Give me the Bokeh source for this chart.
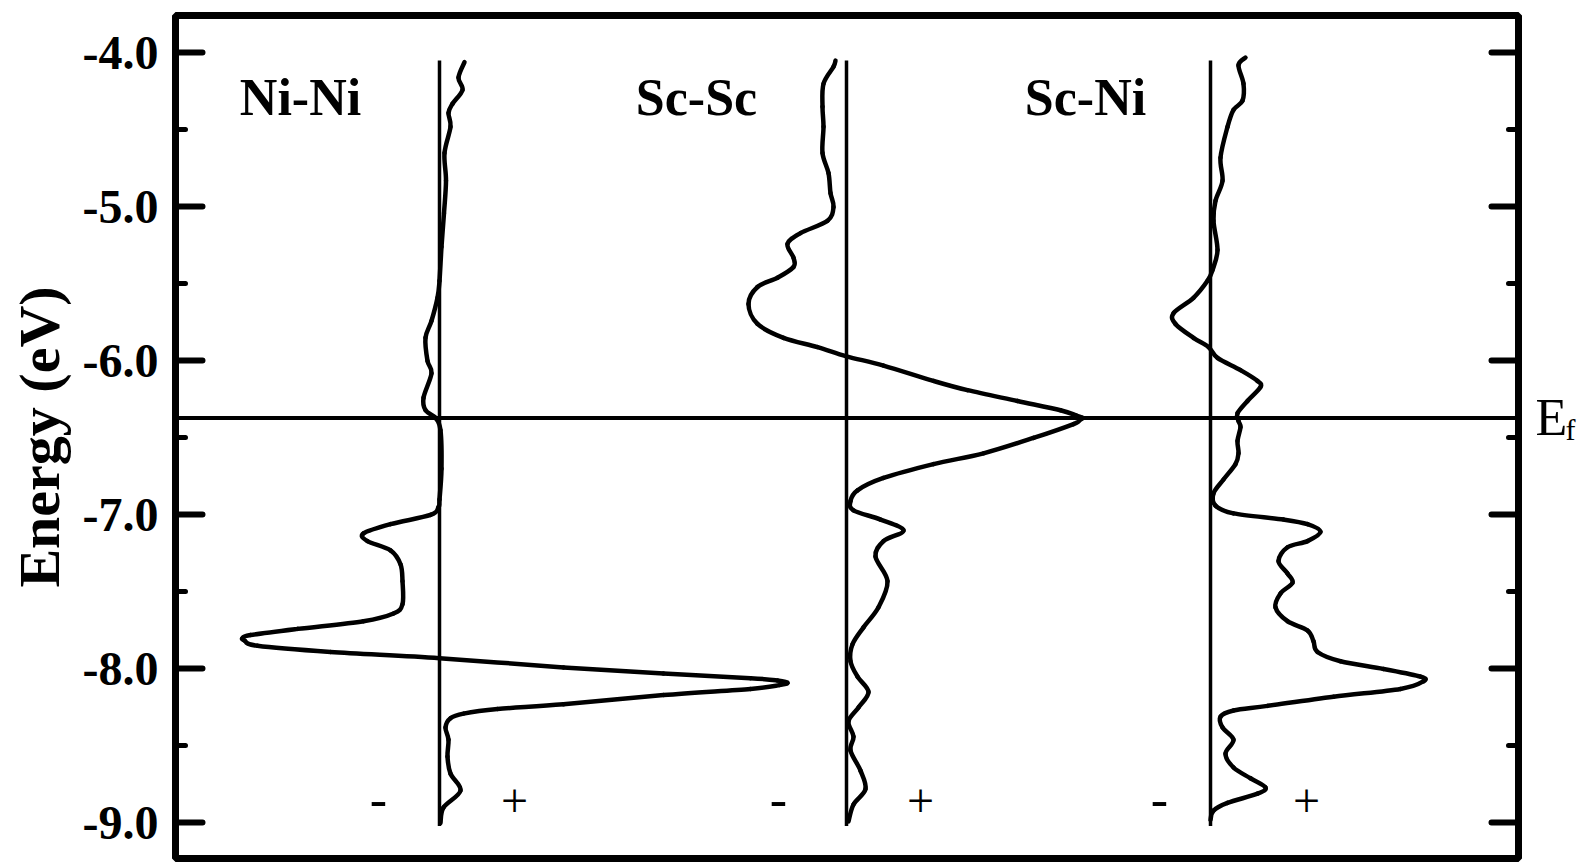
import numpy as np
from bokeh.plotting import figure
from bokeh.layouts import row
from bokeh.models import Range1d, LinearAxis, FixedTicker, PrintfTickFormatter, Span, CustomJSTickFormatter
from bokeh.embed import file_html
from bokeh.resources import INLINE
from bokeh.core.properties import value

# ---- crystal orbital overlap populations vs. energy (eV) ----
energy_ni_ni = [-4.06, -4.16, -4.24, -4.33, -4.39, -4.48, -4.65, -4.83, -5.04, -5.26, -5.48,
                -5.59, -5.74, -5.85, -6.00, -6.08, -6.24, -6.32, -6.37, -6.45, -6.70, -6.90,
                -6.95, -7.00, -7.06, -7.12, -7.17, -7.23, -7.32, -7.43, -7.58, -7.64, -7.69,
                -7.74, -7.78, -7.80, -7.815, -7.85, -7.89, -7.93, -7.99, -8.03, -8.06, -8.075,
                -8.09, -8.105, -8.13, -8.17, -8.23, -8.26, -8.29, -8.32, -8.38, -8.46, -8.57,
                -8.68, -8.79, -8.90, -9.00]
coop_ni_ni = [0.25, 0.19, 0.23, 0.13, 0.09, 0.11, 0.05, 0.065, 0.045, 0.02, 0.0,
              -0.02, -0.08, -0.14, -0.12, -0.08, -0.16, -0.14, -0.04, 0.01, 0.02, 0.0,
              -0.01, -0.09, -0.49, -0.76, -0.72, -0.49, -0.39, -0.37, -0.37, -0.46, -0.76,
              -1.42, -1.89, -1.97, -1.95, -1.82, -1.09, 0.0, 1.24, 2.24, 3.11, 3.38,
              3.48, 3.40, 3.11, 2.24, 1.24, 0.58, 0.24, 0.11, 0.06, 0.09, 0.08,
              0.11, 0.21, 0.04, 0.01]

energy_sc_sc = [-4.05, -4.09, -4.20, -4.35, -4.48, -4.65, -4.78, -4.91, -5.00, -5.09, -5.17,
                -5.24, -5.33, -5.39, -5.46, -5.52, -5.63, -5.76, -5.85, -5.91, -5.97, -6.03,
                -6.13, -6.19, -6.26, -6.32, -6.355, -6.37, -6.385, -6.41, -6.50, -6.60, -6.67,
                -6.76, -6.84, -6.91, -6.97, -7.03, -7.10, -7.17, -7.27, -7.43, -7.60, -7.73,
                -7.84, -7.95, -8.05, -8.15, -8.25, -8.34, -8.44, -8.53, -8.66, -8.78, -8.88,
                -8.99]
coop_sc_sc = [-0.11, -0.13, -0.23, -0.24, -0.23, -0.24, -0.18, -0.16, -0.13, -0.19, -0.46,
              -0.59, -0.53, -0.53, -0.69, -0.89, -0.98, -0.89, -0.63, -0.29, 0.0, 0.37,
              0.87, 1.21, 1.71, 2.14, 2.30, 2.36, 2.33, 2.27, 1.87, 1.37, 0.87,
              0.37, 0.11, 0.04, 0.07, 0.34, 0.57, 0.37, 0.29, 0.41, 0.32, 0.17,
              0.06, 0.04, 0.11, 0.22, 0.12, 0.02, 0.07, 0.04, 0.14, 0.19, 0.07,
              0.02]

energy_sc_ni = [-4.03, -4.08, -4.20, -4.31, -4.37, -4.48, -4.68, -4.83, -4.96, -5.09, -5.28,
                -5.41, -5.48, -5.59, -5.69, -5.76, -5.85, -5.91, -5.98, -6.06, -6.13, -6.17,
                -6.26, -6.34, -6.39, -6.43, -6.52, -6.60, -6.67, -6.77, -6.86, -6.94, -6.99,
                -7.03, -7.06, -7.11, -7.17, -7.21, -7.30, -7.38, -7.44, -7.51, -7.60, -7.69,
                -7.75, -7.82, -7.89, -7.95, -8.00, -8.05, -8.08, -8.13, -8.18, -8.24, -8.27,
                -8.31, -8.38, -8.46, -8.55, -8.64, -8.71, -8.77, -8.81, -8.87, -8.92, -8.98]
coop_sc_ni = [0.35, 0.28, 0.33, 0.32, 0.23, 0.17, 0.10, 0.12, 0.05, 0.03, 0.07,
              0.02, -0.03, -0.17, -0.37, -0.35, -0.17, -0.02, 0.07, 0.30, 0.47, 0.50,
              0.37, 0.27, 0.28, 0.30, 0.27, 0.28, 0.25, 0.13, 0.03, 0.05, 0.23,
              0.73, 0.97, 1.10, 0.97, 0.77, 0.68, 0.77, 0.82, 0.70, 0.65, 0.77,
              0.97, 1.03, 1.07, 1.30, 1.73, 2.10, 2.13, 1.90, 1.23, 0.57, 0.23,
              0.10, 0.12, 0.23, 0.15, 0.23, 0.40, 0.55, 0.47, 0.17, 0.03, 0.0]

panel_names = ["Ni-Ni", "Sc-Sc", "Sc-Ni"]
panel_offsets = [0.0, 4.07, 7.71]          # zero line of each panel on the shared x scale
panel_label_x = [-1.39, 2.57, 6.46]
minus_x = [-0.61, 3.39, 7.20]
plus_x = [0.75, 4.81, 8.67]
e_fermi = -6.37
energy_ticks = [-4.0, -5.0, -6.0, -7.0, -8.0, -9.0]
energy_minor_ticks = [-4.5, -5.5, -6.5, -7.5, -8.5]

SERIF = "Liberation Serif"
Y_RANGE = (-9.231, -3.757)

p = figure(width=1525, height=863,
           x_range=Range1d(-2.64, 10.79), y_range=Range1d(*Y_RANGE),
           output_backend="svg", toolbar_location=None,
           x_axis_location=None, y_axis_location="left",
           min_border_left=175, min_border_right=7, min_border_top=15, min_border_bottom=5)
p.background_fill_color = "white"
p.border_fill_color = "white"
p.grid.visible = False
p.outline_line_color = "black"
p.outline_line_width = 7


def style_axis(ax):
    ax.ticker = FixedTicker(ticks=energy_ticks, minor_ticks=energy_minor_ticks)
    ax.axis_line_color = None
    ax.major_tick_in = 27
    ax.major_tick_out = 0
    ax.minor_tick_in = 10
    ax.minor_tick_out = 0
    ax.major_tick_line_width = 6
    ax.minor_tick_line_width = 5
    ax.major_tick_line_cap = "round"
    ax.minor_tick_line_cap = "round"
    ax.major_tick_line_color = "black"
    ax.minor_tick_line_color = "black"


yax = p.yaxis[0]
style_axis(yax)
yax.formatter = PrintfTickFormatter(format="%.1f")
yax.major_label_standoff = 17
yax.major_label_text_font = SERIF
yax.major_label_text_font_style = "bold"
yax.major_label_text_font_size = "48px"
yax.major_label_text_color = "black"
yax.axis_label = "Energy (eV)"
yax.axis_label_text_font = SERIF
yax.axis_label_text_font_style = "bold"
yax.axis_label_text_font_size = "58px"
yax.axis_label_text_color = "black"
yax.axis_label_standoff = 8

rax = LinearAxis()
style_axis(rax)
rax.formatter = CustomJSTickFormatter(code="return ''")
rax.major_label_standoff = 0
p.add_layout(rax, "right")

# Fermi level
p.add_layout(Span(location=e_fermi, dimension="width", line_color="black", line_width=4))

# zero lines of the three panels
p.segment(x0=panel_offsets, y0=[-4.05] * 3, x1=panel_offsets, y1=[-9.02] * 3,
          line_color="black", line_width=3.5)


def catmull_rom(xs, ys):
    """Cubic Bezier pieces of a Catmull-Rom curve through the given points."""
    x = np.asarray(xs, float)
    y = np.asarray(ys, float)
    n = len(x)
    xp = np.concatenate([[x[0]], x, [x[-1]]])
    yp = np.concatenate([[y[0]], y, [y[-1]]])
    return dict(
        x0=x[:-1], y0=y[:-1], x1=x[1:], y1=y[1:],
        cx0=x[:-1] + (xp[2:n + 1] - xp[0:n - 1]) / 6.0,
        cy0=y[:-1] + (yp[2:n + 1] - yp[0:n - 1]) / 6.0,
        cx1=x[1:] - (xp[3:n + 2] - xp[1:n]) / 6.0,
        cy1=y[1:] - (yp[3:n + 2] - yp[1:n]) / 6.0,
    )


curves = [(energy_ni_ni, coop_ni_ni), (energy_sc_sc, coop_sc_sc), (energy_sc_ni, coop_sc_ni)]
for off, (en, cp) in zip(panel_offsets, curves):
    seg = catmull_rom(off + np.asarray(cp), en)
    p.bezier(line_color="black", line_width=4.5, line_cap="round", **seg)

p.text(x=panel_label_x, y=[-4.29] * 3, text=panel_names,
       text_font=value(SERIF), text_font_size="52px", text_font_style="bold",
       text_color="black", text_align="center", text_baseline="alphabetic")

p.text(x=minus_x, y=[-8.845] * 3, text=["-"] * 3,
       text_font=value(SERIF), text_font_size="52px", text_color="black",
       text_align="center", text_baseline="middle")
p.text(x=plus_x, y=[-8.855] * 3, text=["+"] * 3,
       text_font=value(SERIF), text_font_size="48px", text_color="black",
       text_align="center", text_baseline="middle")

# Fermi-level tag in the right margin
side = figure(width=56, height=863, x_range=Range1d(0, 56), y_range=Range1d(*Y_RANGE),
              output_backend="svg", toolbar_location=None,
              x_axis_location=None, y_axis_location=None,
              min_border_left=0, min_border_right=0, min_border_top=15, min_border_bottom=5)
side.outline_line_color = None
side.grid.visible = False
side.background_fill_color = "white"
side.border_fill_color = "white"
side.text(x=[10], y=[-6.37], text=["E"], text_font=value(SERIF), text_font_size="52px",
          text_color="black", text_align="left", text_baseline="alphabetic")
side.text(x=[40], y=[-6.445], text=["f"], text_font=value(SERIF), text_font_size="30px",
          text_color="black", text_align="left", text_baseline="alphabetic")

layout = row(p, side, spacing=0)
open("out.html", "w").write(file_html(layout, INLINE))
